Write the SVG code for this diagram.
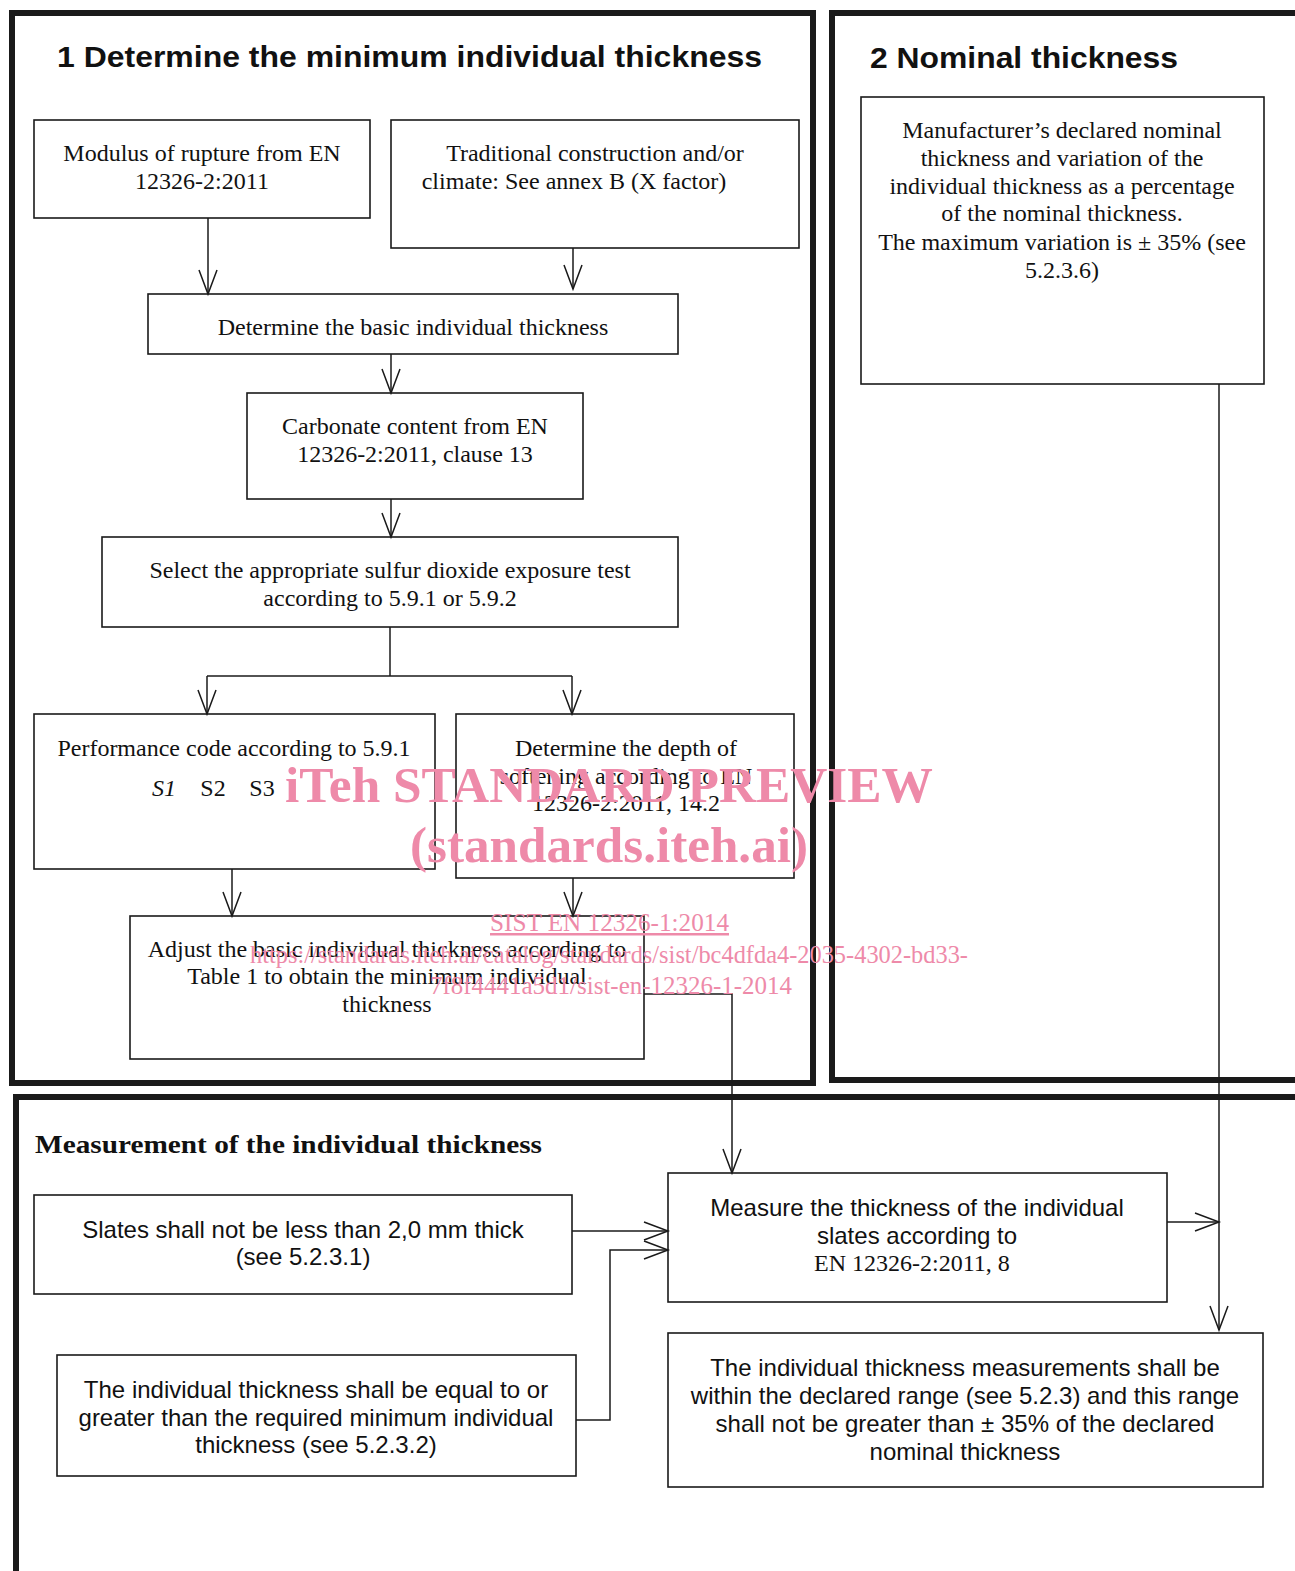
<svg xmlns="http://www.w3.org/2000/svg" width="1295" height="1571" viewBox="0 0 1295 1571">
<style>
.frame{fill:none;stroke:#1a1a1a;stroke-width:6}
.box{fill:#fff;stroke:#1a1a1a;stroke-width:1.6}
.ln{fill:none;stroke:#1a1a1a;stroke-width:1.5}
.t{font-family:"Liberation Serif","Times New Roman",serif;font-size:24px;fill:#111;text-anchor:middle}
.s{font-family:"Liberation Sans",Arial,sans-serif;font-size:24px;fill:#111;text-anchor:middle}
.h{font-family:"Liberation Sans",Arial,sans-serif;font-weight:bold;font-size:29px;fill:#111}
.hs{font-family:"Liberation Serif","Times New Roman",serif;font-weight:bold;font-size:26px;fill:#111}
.wm{font-family:"Liberation Serif","Times New Roman",serif;fill:#ee8aa9}
</style>
<defs>
<marker id="v" markerUnits="userSpaceOnUse" markerWidth="30" markerHeight="24" viewBox="-26 -12 30 24" refX="0" refY="0" orient="auto">
<path d="M-24,-9 L0,0 L-24,9" fill="none" stroke="#1a1a1a" stroke-width="1.5"/>
</marker>
</defs>
<rect width="1295" height="1571" fill="#fff"/>
<g id="frames">
<rect class="frame" x="12" y="13" width="801" height="1070"/>
<path class="frame" d="M1300,13 H832 V1080 H1300"/>
<path class="frame" d="M1300,1097 H16 V1580"/>
</g>
<text class="h" x="57" y="67" textLength="705" lengthAdjust="spacingAndGlyphs">1 Determine the minimum individual thickness</text>
<text class="h" x="870" y="68" textLength="308" lengthAdjust="spacingAndGlyphs">2 Nominal thickness</text>
<text class="hs" x="35" y="1153" textLength="507" lengthAdjust="spacingAndGlyphs">Measurement of the individual thickness</text>

<g id="n_modulus"><rect class="box" x="34" y="120" width="336" height="98"/>
<text class="t" x="202" y="161">Modulus of rupture from EN</text>
<text class="t" x="202" y="189">12326-2:2011</text></g>
<g id="n_traditional"><rect class="box" x="391" y="120" width="408" height="128"/>
<text class="t" x="595" y="161">Traditional construction and/or</text>
<text class="t" x="574" y="189">climate: See annex B (X factor)</text></g>
<g id="n_basic"><rect class="box" x="148" y="294" width="530" height="60"/>
<text class="t" x="413" y="335">Determine the basic individual thickness</text></g>
<g id="n_carbonate"><rect class="box" x="247" y="393" width="336" height="106"/>
<text class="t" x="415" y="434">Carbonate content from EN</text>
<text class="t" x="415" y="462">12326-2:2011, clause 13</text></g>
<g id="n_select"><rect class="box" x="102" y="537" width="576" height="90"/>
<text class="t" x="390" y="578">Select the appropriate sulfur dioxide exposure test</text>
<text class="t" x="390" y="606">according to 5.9.1 or 5.9.2</text></g>
<g id="n_performance"><rect class="box" x="34" y="714" width="401" height="155"/>
<text class="t" x="234" y="756">Performance code according to 5.9.1</text>
<text class="t" x="164" y="796" font-style="italic">S1</text>
<text class="t" x="213" y="796">S2</text>
<text class="t" x="262" y="796">S3</text></g>
<g id="n_depth"><rect class="box" x="456" y="714" width="338" height="164"/>
<text class="t" x="626" y="756">Determine the depth of</text>
<text class="t" x="626" y="784">softening according to EN</text>
<text class="t" x="626" y="811">12326-2:2011, 14.2</text></g>
<g id="n_adjust"><rect class="box" x="130" y="916" width="514" height="143"/>
<text class="t" x="387" y="957">Adjust the basic individual thickness according to</text>
<text class="t" x="387" y="984">Table 1 to obtain the minimum individual</text>
<text class="t" x="387" y="1012">thickness</text></g>
<g id="n_manufacturer"><rect class="box" x="861" y="97" width="403" height="287"/>
<text class="t" x="1062" y="138">Manufacturer’s declared nominal</text>
<text class="t" x="1062" y="166">thickness and variation of the</text>
<text class="t" x="1062" y="194">individual thickness as a percentage</text>
<text class="t" x="1062" y="221">of the nominal thickness.</text>
<text class="t" x="1062" y="250">The maximum variation is ± 35% (see</text>
<text class="t" x="1062" y="278">5.2.3.6)</text></g>
<g id="n_slates"><rect class="box" x="34" y="1195" width="538" height="99"/>
<text class="s" x="303" y="1238">Slates shall not be less than 2,0 mm thick</text>
<text class="s" x="303" y="1265">(see 5.2.3.1)</text></g>
<g id="n_individual"><rect class="box" x="57" y="1355" width="519" height="121"/>
<text class="s" x="316" y="1398">The individual thickness shall be equal to or</text>
<text class="s" x="316" y="1426">greater than the required minimum individual</text>
<text class="s" x="316" y="1453">thickness (see 5.2.3.2)</text></g>
<g id="n_measure"><rect class="box" x="668" y="1173" width="499" height="129"/>
<text class="s" x="917" y="1216">Measure the thickness of the individual</text>
<text class="s" x="917" y="1244">slates according to</text>
<text class="t" x="912" y="1271">EN 12326-2:2011, 8</text></g>
<g id="n_measurements"><rect class="box" x="668" y="1333" width="595" height="154"/>
<text class="s" x="965" y="1376">The individual thickness measurements shall be</text>
<text class="s" x="965" y="1404">within the declared range (see 5.2.3) and this range</text>
<text class="s" x="965" y="1432">shall not be greater than ± 35% of the declared</text>
<text class="s" x="965" y="1460">nominal thickness</text></g>

<g id="connectors">
<path class="ln" d="M208,218 V294" marker-end="url(#v)"/>
<path class="ln" d="M573,248 V289" marker-end="url(#v)"/>
<path class="ln" d="M391,354 V393" marker-end="url(#v)"/>
<path class="ln" d="M391,499 V537" marker-end="url(#v)"/>
<path class="ln" d="M390,627 V676"/>
<path class="ln" d="M207,676 H572"/>
<path class="ln" d="M207,676 V714" marker-end="url(#v)"/>
<path class="ln" d="M572,676 V714" marker-end="url(#v)"/>
<path class="ln" d="M232,869 V916" marker-end="url(#v)"/>
<path class="ln" d="M573,878 V916" marker-end="url(#v)"/>
<path class="ln" d="M644,994 H732 V1173" marker-end="url(#v)"/>
<path class="ln" d="M1219,384 V1330" marker-end="url(#v)"/>
<path class="ln" d="M572,1231 H668" marker-end="url(#v)"/>
<path class="ln" d="M576,1420 H610 V1250 H668" marker-end="url(#v)"/>
<path class="ln" d="M1167,1222 H1219" marker-end="url(#v)"/>
</g>

<g id="watermark">
<text class="wm" x="285" y="802" font-size="50" font-weight="bold" textLength="648" lengthAdjust="spacingAndGlyphs">iTeh STANDARD PREVIEW</text>
<text class="wm" x="410" y="862" font-size="50" font-weight="bold" textLength="398" lengthAdjust="spacingAndGlyphs">(standards.iteh.ai)</text>
<text class="wm" x="490" y="931" font-size="25" text-decoration="underline" textLength="239" lengthAdjust="spacingAndGlyphs">SIST EN 12326-1:2014</text>
<text class="wm" x="250" y="963" font-size="25" textLength="718" lengthAdjust="spacingAndGlyphs">https://standards.iteh.ai/catalog/standards/sist/bc4dfda4-2035-4302-bd33-</text>
<text class="wm" x="430" y="994" font-size="25" textLength="362" lengthAdjust="spacingAndGlyphs">7f8f4441a5d1/sist-en-12326-1-2014</text>
</g>
</svg>
